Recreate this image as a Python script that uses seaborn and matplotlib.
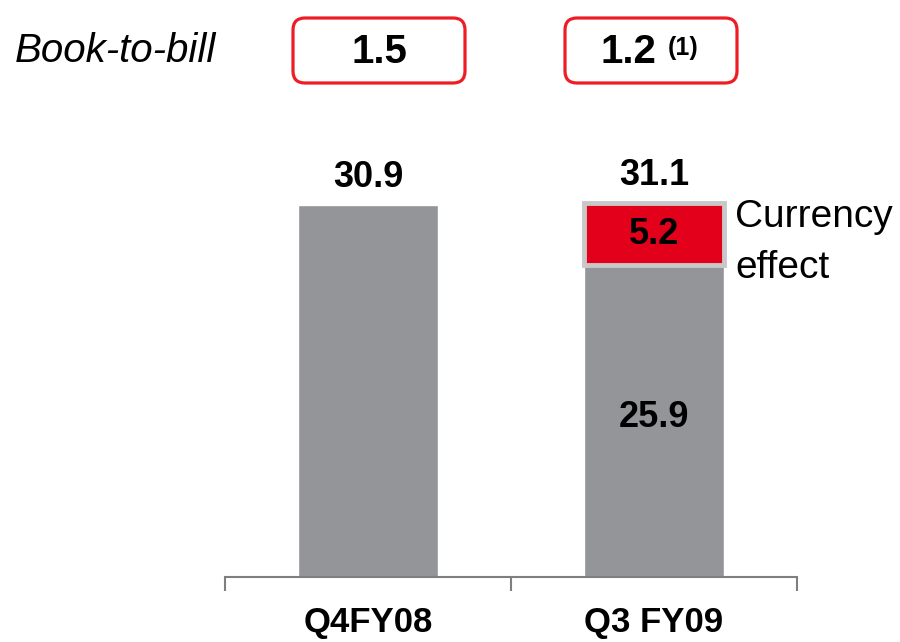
import matplotlib
matplotlib.use('Agg')
import matplotlib.pyplot as plt
from matplotlib.patches import FancyBboxPatch
from matplotlib.ticker import FixedLocator
import seaborn as sns

# order intake values
categories = ['Q4FY08', 'Q3 FY09']
base_values = [30.9, 25.9]
currency_effect = [0.0, 5.2]
totals = [30.9, 31.1]
book_to_bill = ['1.5', '1.2']

gray = '#939598'
red = '#e3001b'
box_red = '#ee1c25'

sns.set_style('white')
plt.rcParams['font.family'] = ['Liberation Sans', 'DejaVu Sans']
plt.rcParams['text.color'] = 'black'
plt.rcParams['xtick.color'] = 'black'

fig = plt.figure(figsize=(9, 6.42), dpi=100)
ax = fig.add_axes([0.25, 0.1012, 0.6356, 0.6558])

sns.barplot(x=categories, y=base_values, color=gray, saturation=1, width=0.49, ax=ax)
# currency effect stacked on top of the second bar
ax.bar(1, currency_effect[1], bottom=base_values[1], width=0.49, color=red,
       edgecolor='#c8c8c8', linewidth=3.5)

ax.set_xlim(-0.5, 1.5)
ax.set_ylim(0, 35)

# labels
for i, t in enumerate(totals):
    ax.text(i, t + 1.5, f'{t:.1f}', ha='center', va='baseline', fontsize=26, fontweight='bold')
ax.text(1, base_values[1] + currency_effect[1] / 2, f'{currency_effect[1]:.1f}', ha='center', va='center',
        fontsize=26, fontweight='bold')
ax.text(1, 13.3, f'{base_values[1]:.1f}', ha='center', va='center', fontsize=26, fontweight='bold')

# axis styling
for s in ['top', 'left', 'right']:
    ax.spines[s].set_visible(False)
ax.spines['bottom'].set_color('#7f7f7f')
ax.spines['bottom'].set_linewidth(1.5)
ax.set_yticks([])
ax.set_ylabel('')
ax.set_xticks([0, 1])
ax.set_xticklabels(categories, fontsize=25, fontweight='bold', color='black')
ax.tick_params(axis='x', which='major', length=0, pad=21)
ax.xaxis.set_minor_locator(FixedLocator([-0.5, 0.5, 1.5]))
ax.tick_params(axis='x', which='minor', length=10, width=1.5, color='#7f7f7f', direction='out', bottom=True)

# overlay in pixel units for the header row
ov = fig.add_axes([0, 0, 1, 1])
ov.set_xlim(0, 900)
ov.set_ylim(642, 0)
ov.axis('off')
ov.patch.set_alpha(0)

ov.text(15, 62, 'Book-to-bill', fontsize=29, style='italic', va='baseline', ha='left')
for x0 in [293, 565]:
    ov.add_patch(FancyBboxPatch((x0, 18), 172, 65, boxstyle='round,pad=0,rounding_size=12',
                                fill=False, edgecolor=box_red, linewidth=2.3))
ov.text(379, 63, book_to_bill[0], fontsize=29, fontweight='bold', ha='center', va='baseline')
ov.text(628, 63, book_to_bill[1], fontsize=29, fontweight='bold', ha='center', va='baseline')
ov.text(683, 55, '(1)', fontsize=18, fontweight='bold', ha='center', va='baseline')

ov.text(735, 227, 'Currency', fontsize=28, ha='left', va='baseline')
ov.text(735, 278, 'effect', fontsize=28, ha='left', va='baseline')

fig.savefig('out.png', dpi=100)
